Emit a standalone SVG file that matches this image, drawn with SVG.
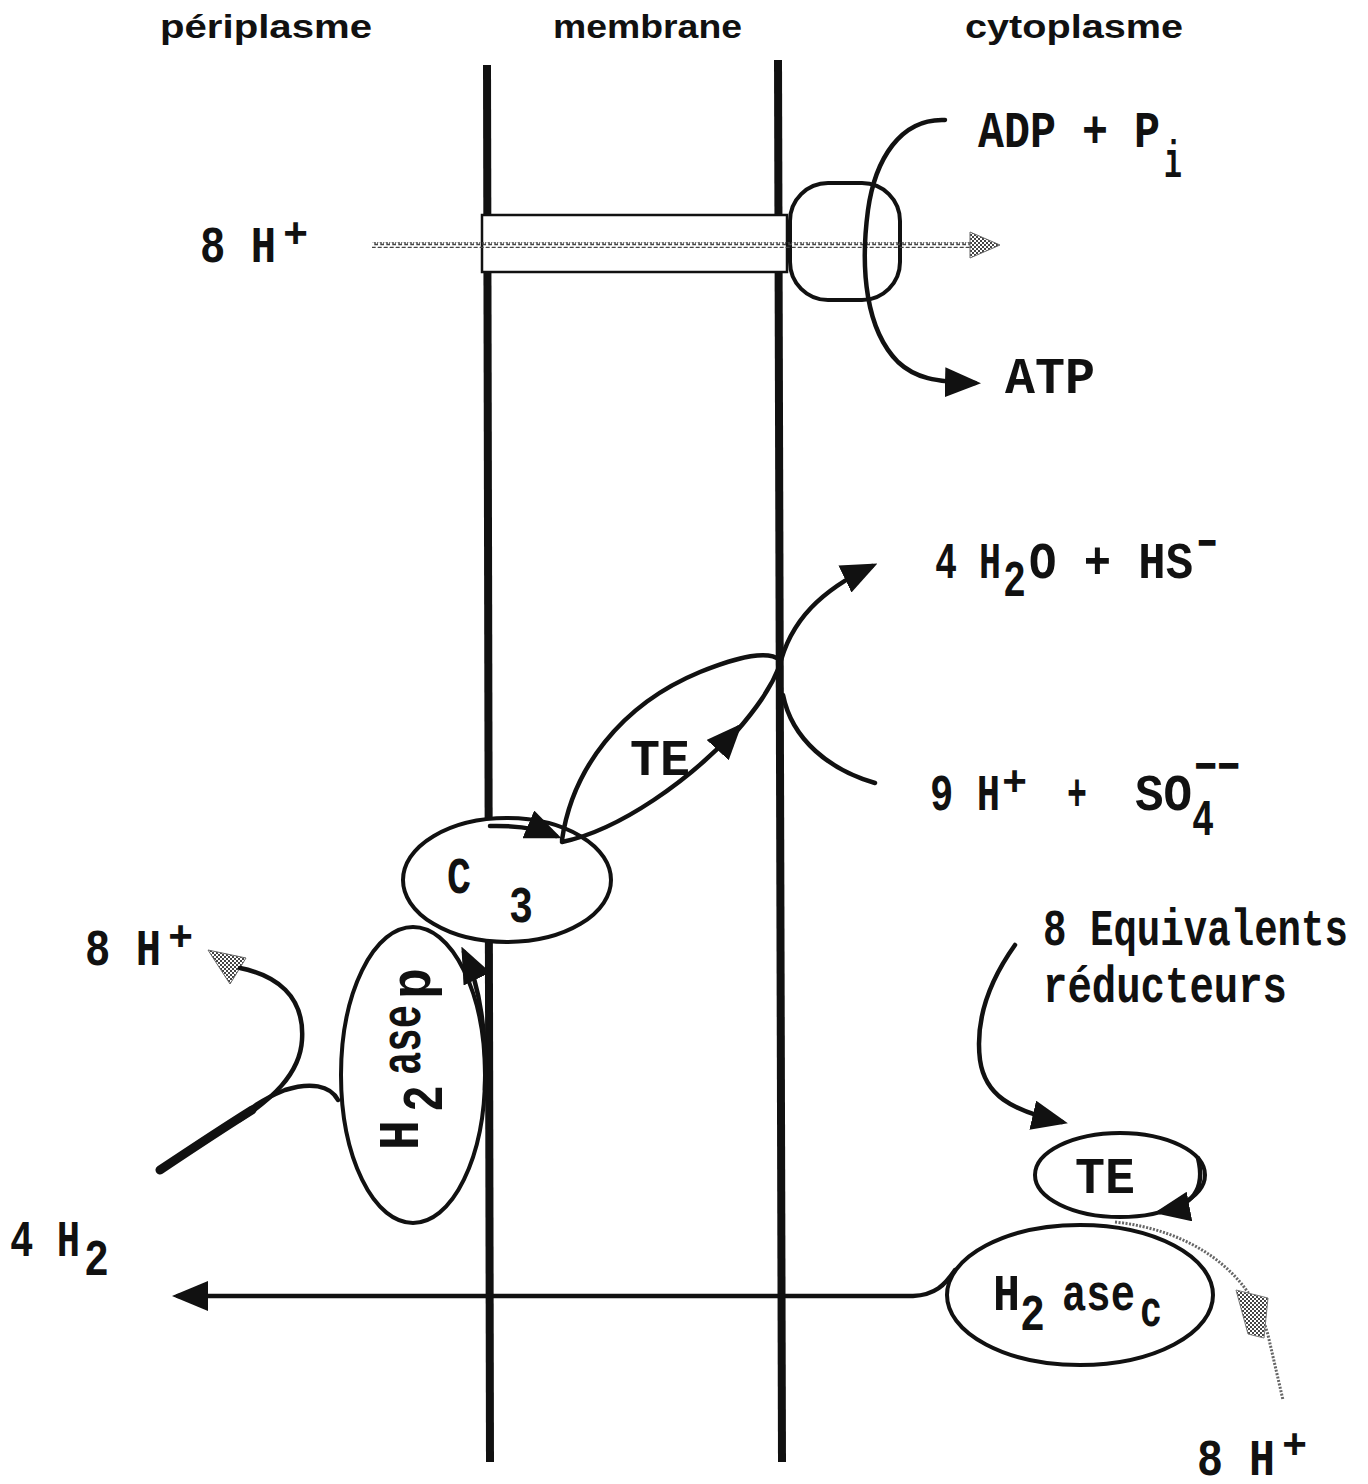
<svg xmlns="http://www.w3.org/2000/svg" width="1368" height="1484" viewBox="0 0 1368 1484">
<style>
.hd{font-family:"Liberation Sans",Arial,sans-serif;font-weight:bold;font-size:34px;fill:#111}
.m{font-family:"Liberation Mono","Courier New",monospace;font-weight:bold;font-size:52px;fill:#111}
.r{font-family:"Liberation Mono","Courier New",monospace;font-weight:bold;font-size:58px;fill:#111}
.s{font-family:"Liberation Mono","Courier New",monospace;font-weight:bold;font-size:42px;fill:#111}
.mem{stroke:#111;stroke-width:8;fill:none}
.ln{stroke:#111;stroke-width:4.5;fill:none;stroke-linecap:round}
.el{stroke:#111;stroke-width:4;fill:#fff}
.gr{stroke:#666;stroke-width:3;fill:none;stroke-dasharray:2 1.5}
</style>
<defs>
<marker id="ah" viewBox="0 0 24 20" refX="20" refY="10" markerWidth="36" markerHeight="30" markerUnits="userSpaceOnUse" orient="auto"><path d="M0,0 L24,10 L0,20 z" fill="#111"/></marker>
<pattern id="st" width="4" height="4" patternUnits="userSpaceOnUse"><rect width="4" height="4" fill="#fff"/><rect width="2" height="2" fill="#444"/><rect x="2" y="2" width="2" height="2" fill="#444"/></pattern>
<pattern id="wave" width="6" height="6" patternUnits="userSpaceOnUse"><path d="M0,1.5 H3 V4.5 H6 V1.5" stroke="#444" stroke-width="1.4" fill="none"/></pattern>
</defs>
<rect width="1368" height="1484" fill="#fff"/>

<g id="headers">
<text class="hd" x="160" y="38" textLength="212" lengthAdjust="spacingAndGlyphs">périplasme</text>
<text class="hd" x="553" y="38" textLength="189" lengthAdjust="spacingAndGlyphs">membrane</text>
<text class="hd" x="965" y="38" textLength="218" lengthAdjust="spacingAndGlyphs">cytoplasme</text>
</g>

<g id="membrane">
<path class="mem" d="M487 65 L490 1462"/>
<path class="mem" d="M778 60 L782 1462"/>
</g>

<g id="atp-synthase">
<rect x="482" y="215" width="305" height="57" fill="#fff" stroke="#111" stroke-width="2.5"/>
<rect x="790" y="183" width="110" height="117" rx="38" ry="38" class="el"/>
</g>

<g id="node-C3">
<ellipse cx="507" cy="880" rx="104" ry="62" class="el"/>
<text class="m" x="447" y="893" textLength="24" lengthAdjust="spacingAndGlyphs">C</text>
<text class="m" x="509" y="922" textLength="24" lengthAdjust="spacingAndGlyphs">3</text>
</g>

<g id="node-H2asep">
<ellipse cx="413" cy="1075" rx="72" ry="148" class="el"/>
<text class="r" transform="translate(418,1150) rotate(-90)" textLength="30" lengthAdjust="spacingAndGlyphs">H</text>
<text class="r" transform="translate(442,1112) rotate(-90)" textLength="27" lengthAdjust="spacingAndGlyphs">2</text>
<text class="r" transform="translate(420,1075) rotate(-90)" textLength="70" lengthAdjust="spacingAndGlyphs">ase</text>
<text class="r" transform="translate(430,999) rotate(-90)" textLength="31" lengthAdjust="spacingAndGlyphs">p</text>
</g>

<g id="node-TE-membrane">
<text class="m" x="630" y="775" textLength="60" lengthAdjust="spacingAndGlyphs">TE</text>
</g>

<g id="node-TE-cyto">
<ellipse cx="1120" cy="1175" rx="85" ry="42" class="el"/>
<text class="m" x="1075" y="1193" textLength="60" lengthAdjust="spacingAndGlyphs">TE</text>
</g>

<g id="node-H2asec">
<ellipse cx="1080" cy="1295" rx="133" ry="70" class="el"/>
<text class="m" x="993" y="1310" textLength="27" lengthAdjust="spacingAndGlyphs">H</text>
<text class="m" x="1020" y="1330" textLength="25" lengthAdjust="spacingAndGlyphs">2</text>
<text class="m" x="1062" y="1310" textLength="73" lengthAdjust="spacingAndGlyphs">ase</text>
<text class="m" x="1140" y="1326" textLength="22" lengthAdjust="spacingAndGlyphs">c</text>
</g>

<g id="connectors">
<rect x="372" y="242" width="598" height="6" fill="url(#wave)"/>
<polygon points="970,232 1000,245 970,258" fill="url(#st)" stroke="#666" stroke-width="1"/>
<path class="ln" d="M945 120 C900 118 875 160 868 210 C860 270 866 330 898 362 C915 378 935 382 975 383" marker-end="url(#ah)"/>
<path class="ln" d="M490 826 Q530 825 556 836" marker-end="url(#ah)"/>
<path class="ln" d="M562 840 C572 770 620 705 700 672 C740 656 768 650 780 660"/>
<path class="ln" d="M562 842 C620 830 690 780 738 728" marker-end="url(#ah)"/>
<path class="ln" d="M736 732 C755 710 770 690 780 665"/>
<path class="ln" d="M779 668 C790 620 822 590 872 566" marker-end="url(#ah)"/>
<path class="ln" d="M783 695 C792 740 830 770 875 783"/>
<path class="ln" d="M485 1090 C487 1035 480 985 464 952" marker-end="url(#ah)"/>
<polygon points="208,950 246,958 230,984" fill="url(#st)" stroke="#666" stroke-width="1"/>
<path class="ln" d="M240 968 C275 975 305 995 302 1040 C300 1075 270 1100 240 1120"/>
<path class="ln" d="M338 1100 C330 1085 310 1082 285 1090 C265 1098 250 1108 240 1118"/>
<path d="M160 1170 C190 1150 220 1130 252 1110" stroke="#111" stroke-width="9" fill="none" stroke-linecap="round"/>
<path class="ln" d="M1015 945 C990 980 975 1020 980 1060 C985 1095 1010 1110 1062 1122" marker-end="url(#ah)"/>
<path class="ln" d="M1198 1158 C1206 1190 1192 1206 1160 1212" marker-end="url(#ah)"/>
<path class="ln" d="M955 1270 C945 1285 935 1295 913 1296 L178 1296" marker-end="url(#ah)"/>
<path class="gr" d="M1115 1222 C1190 1230 1250 1270 1268 1335 L1283 1400"/>
<polygon points="1236,1290 1268,1298 1264,1338 1248,1334" fill="url(#st)" stroke="#777" stroke-width="1"/>
</g>

<g id="labels">
<text class="m" x="200" y="262" textLength="76" lengthAdjust="spacingAndGlyphs">8 H</text>
<text class="s" x="283" y="247">+</text>
<text class="m" x="978" y="147" textLength="182" lengthAdjust="spacingAndGlyphs">ADP + P</text>
<text class="m" x="1164" y="177" textLength="18" lengthAdjust="spacingAndGlyphs">i</text>
<text class="m" x="1005" y="393" textLength="90" lengthAdjust="spacingAndGlyphs">ATP</text>
<text class="m" x="935" y="578" textLength="66" lengthAdjust="spacingAndGlyphs">4 H</text>
<text class="m" x="1003" y="596" textLength="23" lengthAdjust="spacingAndGlyphs">2</text>
<text class="m" x="1029" y="578" textLength="164" lengthAdjust="spacingAndGlyphs">O + HS</text>
<text class="m" x="1197" y="560" textLength="20" lengthAdjust="spacingAndGlyphs">−</text>
<text class="m" x="930" y="810" textLength="70" lengthAdjust="spacingAndGlyphs">9 H</text>
<text class="s" x="1002" y="795">+</text>
<text class="m" x="1067" y="810" textLength="20" lengthAdjust="spacingAndGlyphs">+</text>
<text class="m" x="1135" y="810" textLength="57" lengthAdjust="spacingAndGlyphs">SO</text>
<text class="m" x="1192" y="835" textLength="22" lengthAdjust="spacingAndGlyphs">4</text>
<text class="m" x="1194" y="783" textLength="46" lengthAdjust="spacingAndGlyphs">−−</text>
<text class="m" x="85" y="965" textLength="76" lengthAdjust="spacingAndGlyphs">8 H</text>
<text class="s" x="168" y="950">+</text>
<text class="m" x="10" y="1256" textLength="70" lengthAdjust="spacingAndGlyphs">4 H</text>
<text class="m" x="84" y="1275" textLength="25" lengthAdjust="spacingAndGlyphs">2</text>
<text class="m" x="1043" y="945" textLength="305" lengthAdjust="spacingAndGlyphs">8 Equivalents</text>
<text class="m" x="1043" y="1002" textLength="244" lengthAdjust="spacingAndGlyphs">réducteurs</text>
<text class="m" x="1197" y="1475" textLength="78" lengthAdjust="spacingAndGlyphs">8 H</text>
<text class="s" x="1282" y="1458">+</text>
</g>
</svg>
